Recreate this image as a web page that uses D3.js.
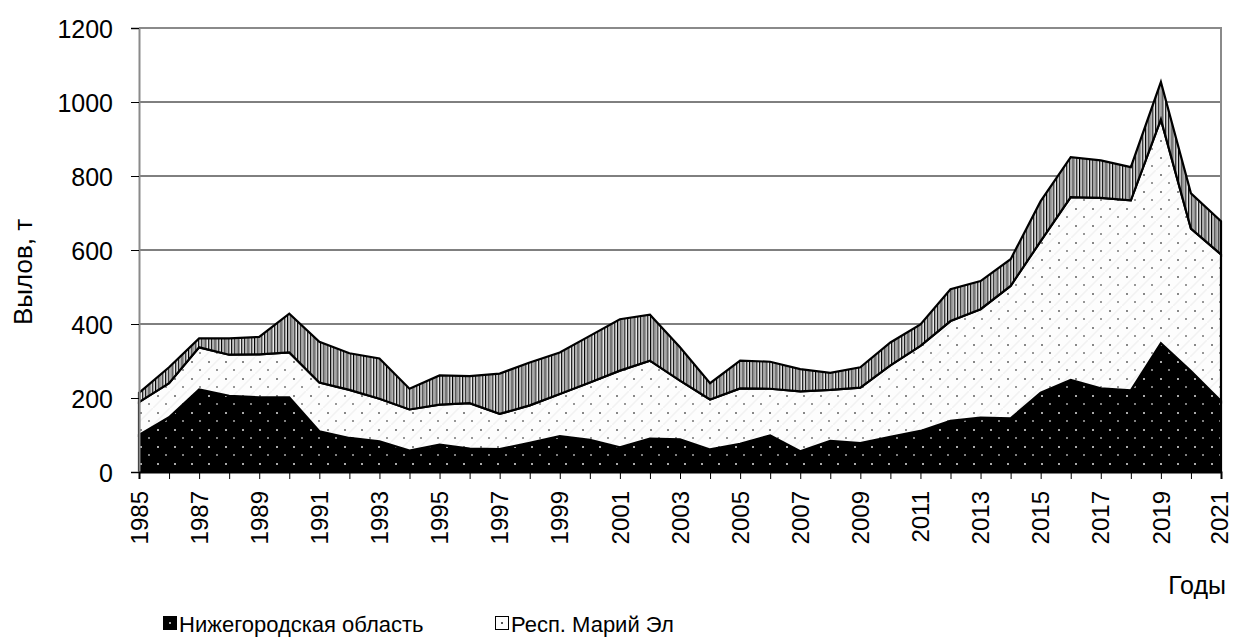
<!DOCTYPE html>
<html>
<head>
<meta charset="utf-8">
<style>
  body { margin: 0; background: #fff; }
  svg { display: block; }
  text { font-family: Arial, "Liberation Sans", sans-serif; fill: #000; }
</style>
</head>
<body>
<script src="https://d3js.org/d3.v7.min.js"></script>
<script>

var years = d3.range(1985, 2022);

// catch, t
var nizhny = [100,148,223,206,202,202,110,92,83,58,74,63,62,79,97,87,67,90,88,61,76,99,56,84,78,95,111,138,147,145,214,249,226,221,348,273,192];
var mariEl = [89,92,114,111,116,121,132,130,115,111,108,123,95,101,114,155,207,211,159,135,150,126,162,138,150,193,230,270,293,358,410,494,515,513,605,385,396];
var other  = [25,43,24,44,47,105,110,99,109,56,79,73,109,116,112,126,139,124,90,44,75,73,60,46,55,62,58,86,76,72,108,108,101,90,101,95,90];

var legendNames = ["Нижегородская область", "Респ. Марий Эл"];
var yTicks = [0, 200, 400, 600, 800, 1000, 1200];

var width = 1233, height = 641;
var margin = {top: 28, right: 12, bottom: 169, left: 139};

var svg = d3.select("body").append("svg")
    .attr("width", width)
    .attr("height", height);

// fill patterns
var defs = svg.append("defs");

var p1 = defs.append("pattern").attr("id", "pNizh")
    .attr("patternUnits", "userSpaceOnUse").attr("width", 17).attr("height", 17);
p1.append("rect").attr("width", 17).attr("height", 17).attr("fill", "#000");
p1.append("rect").attr("x", 4).attr("y", 4).attr("width", 2).attr("height", 2).attr("fill", "#aaa");
p1.append("rect").attr("x", 12).attr("y", 12.5).attr("width", 2).attr("height", 1).attr("fill", "#fff");

var p2 = defs.append("pattern").attr("id", "pMari")
    .attr("patternUnits", "userSpaceOnUse").attr("width", 17).attr("height", 17);
p2.append("rect").attr("width", 17).attr("height", 17).attr("fill", "#fdfdfd");
p2.append("path").attr("d", "M0,17L17,0").attr("stroke", "#f2f2f2").attr("stroke-width", 1.5);
p2.append("rect").attr("x", 4).attr("y", 4).attr("width", 2).attr("height", 2).attr("fill", "#888");
p2.append("rect").attr("x", 12).attr("y", 12.5).attr("width", 2).attr("height", 1).attr("fill", "#333");

var p3 = defs.append("pattern").attr("id", "pOther")
    .attr("patternUnits", "userSpaceOnUse").attr("width", 3.3).attr("height", 10);
p3.append("rect").attr("width", 3.3).attr("height", 10).attr("fill", "#fff");
p3.append("rect").attr("x", 0).attr("width", 1.1).attr("height", 10).attr("fill", "#000");
p3.append("rect").attr("x", 1.6).attr("width", 1).attr("height", 10).attr("fill", "#9a9a9a");

var fills = ["url(#pNizh)", "url(#pMari)", "url(#pOther)"];

var x = d3.scaleLinear()
    .domain([1985, 2021])
    .range([margin.left, width - margin.right]);

var y = d3.scaleLinear()
    .domain([0, 1200])
    .range([height - margin.bottom, margin.top]);

var rows = years.map(function(yr, i) {
  return {year: yr, a: nizhny[i], b: mariEl[i], c: other[i]};
});

var layers = d3.stack().keys(["a", "b", "c"])(rows);

// gridlines
svg.append("g")
  .selectAll("line")
  .data(yTicks.filter(function(d) { return d > 0 && d < 1200; }))
  .enter()
  .append("line")
  .attr("x1", x(1985)).attr("x2", x(2021))
  .attr("y1", function(d) { return y(d); })
  .attr("y2", function(d) { return y(d); })
  .attr("stroke", "#000")
  .attr("stroke-width", 1);

// plot frame (top, right)
svg.append("path")
  .attr("d", "M" + x(1985) + "," + y(1200) + "H" + x(2021) + "V" + y(0))
  .attr("fill", "none")
  .attr("stroke", "#8a8a8a")
  .attr("stroke-width", 2);

var area = d3.area()
  .x(function(d) { return x(d.data.year); })
  .y0(function(d) { return y(d[0]); })
  .y1(function(d) { return y(d[1]); });

svg.append("g")
  .selectAll("path")
  .data(layers)
  .enter()
  .append("path")
  .attr("d", area)
  .attr("fill", function(d, i) { return fills[i]; })
  .attr("stroke", "#000")
  .attr("stroke-width", 2.2)
  .attr("stroke-linejoin", "miter");

// y axis
var yAxis = svg.append("g")
  .attr("transform", "translate(" + x(1985) + ",0)")
  .call(d3.axisLeft(y).tickValues(yTicks).tickSize(8).tickPadding(18).tickFormat(d3.format("d")));
yAxis.select(".domain").attr("stroke", "#8a8a8a").attr("stroke-width", 2);
yAxis.selectAll(".tick line").attr("stroke", "#000");
yAxis.selectAll(".tick text")
  .attr("font-size", 25)
  .attr("font-family", "Arial, 'Liberation Sans', sans-serif")
  .attr("dy", "0.36em");

// x axis
var xAxis = svg.append("g")
  .attr("transform", "translate(0," + y(0) + ")")
  .call(d3.axisBottom(x).tickValues(years).tickSize(7).tickFormat(""));
xAxis.select(".domain").attr("stroke", "#000").attr("stroke-width", 2);
xAxis.selectAll(".tick line").attr("stroke", "#000");

svg.append("g")
  .selectAll("text")
  .data(years.filter(function(d) { return (d - 1985) % 2 === 0; }))
  .enter()
  .append("text")
  .attr("transform", function(d) { return "translate(" + Math.min(x(d), 1219) + "," + (y(0) + 19) + ") rotate(-90)"; })
  .attr("text-anchor", "end")
  .attr("dy", "0.36em")
  .attr("font-size", 24)
  .text(function(d) { return d; });

// axis titles
svg.append("text")
  .attr("transform", "translate(32,272) rotate(-90)")
  .attr("text-anchor", "middle")
  .attr("font-size", 26)
  .text("Вылов, т");

svg.append("text")
  .attr("x", 1226)
  .attr("y", 594)
  .attr("text-anchor", "end")
  .attr("font-size", 25)
  .text("Годы");

// legend
var legendX = [163, 495];
var leg = svg.append("g")
  .selectAll("g")
  .data(legendNames)
  .enter()
  .append("g")
  .attr("transform", function(d, i) { return "translate(" + legendX[i] + ",616)"; });

leg.append("rect")
  .attr("x", 0.5).attr("y", 0.5)
  .attr("width", 13).attr("height", 13)
  .attr("fill", function(d, i) { return i === 0 ? "#000" : "#fcfcfc"; })
  .attr("stroke", "#000")
  .attr("stroke-width", 1);
leg.append("rect")
  .attr("x", 6).attr("y", 6).attr("width", 2).attr("height", 2)
  .attr("fill", function(d, i) { return i === 0 ? "#aaa" : "#555"; });

leg.append("text")
  .attr("x", 16)
  .attr("y", 16)
  .attr("font-size", 22)
  .text(function(d) { return d; });

</script>
</body>
</html>
